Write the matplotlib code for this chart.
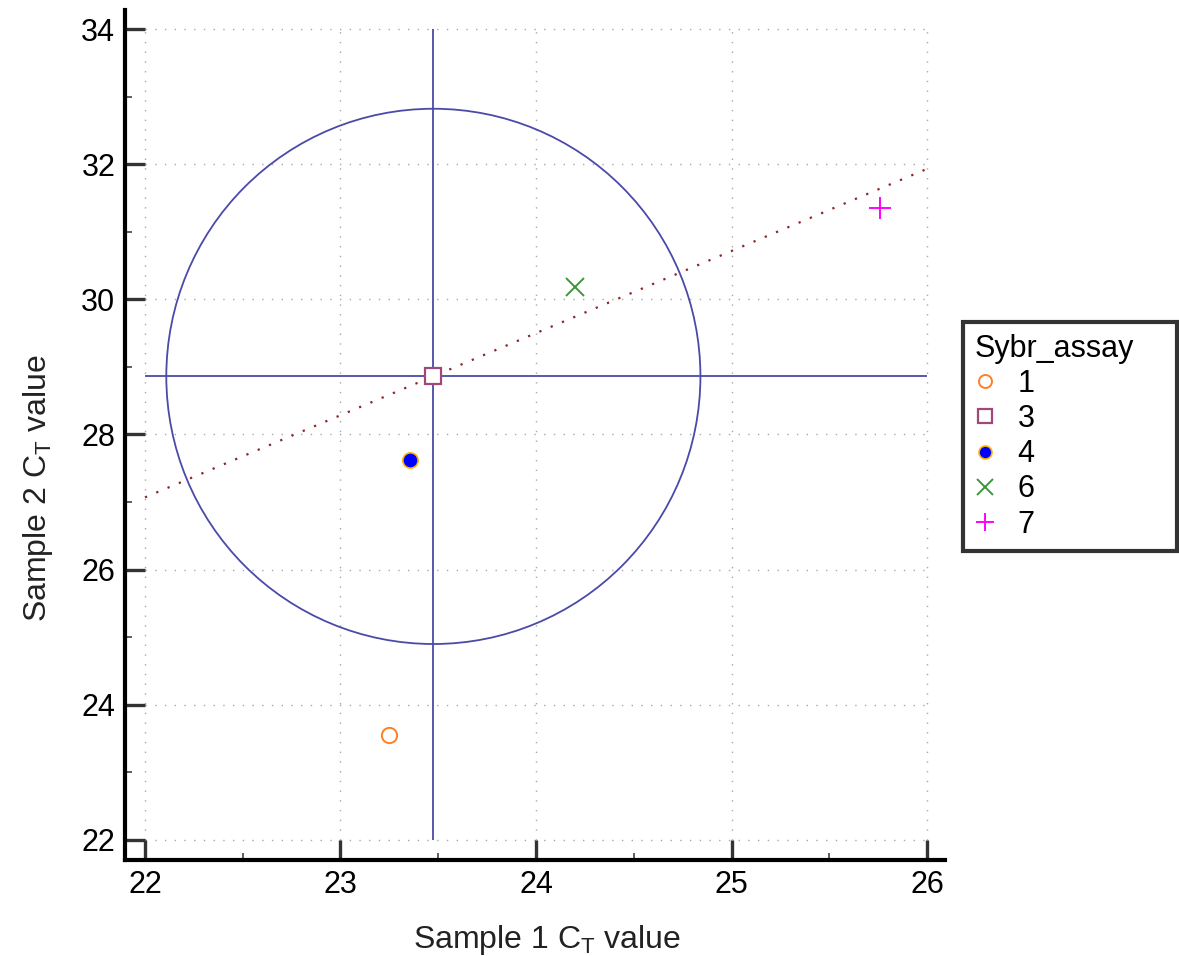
import numpy as np
import matplotlib
matplotlib.use('Agg')
import matplotlib.pyplot as plt
from matplotlib.patches import Ellipse
from matplotlib.ticker import MultipleLocator

plt.rcParams['font.family'] = ['Liberation Sans', 'DejaVu Sans']
plt.rcParams['mathtext.fontset'] = 'custom'
plt.rcParams['mathtext.rm'] = 'Liberation Sans'
plt.rcParams['mathtext.it'] = 'Liberation Sans:italic'
plt.rcParams['mathtext.default'] = 'regular'

# values
assay_labels = ['1', '3', '4', '6', '7']
sample1_ct = [23.25, 23.475, 23.355, 24.20, 25.76]
sample2_ct = [23.56, 28.86, 27.62, 30.18, 31.35]

# median cross and the ellipse around it
center_x = 23.475
center_y = 28.86
radius_x = 1.366
radius_y = 3.96

# dotted fit line: y = intercept + slope * x
fit_intercept = 0.34
fit_slope = 1.215

x_ticks = [22, 23, 24, 25, 26]
y_ticks = [22, 24, 26, 28, 30, 32, 34]

marker_styles = {
    '1': dict(marker='o', mfc='none', mec='#FF7F27', ms=11, mew=1.4),
    '3': dict(marker='s', mfc='white', mec='#A04878', ms=12, mew=1.6),
    '4': dict(marker='o', mfc='#0000FF', mec='#FFB400', ms=11, mew=1.2),
    '6': dict(marker='x', color='#3C963C', ms=13, mew=1.4),
    '7': dict(marker='+', color='#FF00FF', ms=16, mew=1.4),
}

fig = plt.figure(figsize=(11.79, 9.56), dpi=100)
ax = fig.add_axes([0.10602, 0.10042, 0.69551, 0.88912])

x0, x1 = x_ticks[0], x_ticks[-1]
y0, y1 = y_ticks[0], y_ticks[-1]

# dotted grid only across the data range
grid_kw = dict(color='#A8A8A8', lw=1.0, linestyle=(0, (1, 6)), zorder=0)
ax.hlines(y_ticks, x0, x1, **grid_kw)
ax.vlines(x_ticks, y0, y1, **grid_kw)

line_col = '#4A4AA8'
ax.hlines(center_y, x0, x1, color=line_col, lw=1.3, zorder=2)
ax.vlines(center_x, y0, y1, color=line_col, lw=1.3, zorder=2)
ax.add_patch(Ellipse((center_x, center_y), 2 * radius_x, 2 * radius_y,
                     fill=False, edgecolor=line_col, lw=1.3, zorder=2))

fx = np.array([x0, x1])
ax.plot(fx, fit_intercept + fit_slope * fx, color='#8B2525', lw=1.6,
        linestyle=(0, (1, 4.5)), zorder=2)

for lab, xv, yv in zip(assay_labels, sample1_ct, sample2_ct):
    ax.plot([xv], [yv], linestyle='none', label=lab, zorder=4, **marker_styles[lab])

ax.set_xlim(x0 - 20 / 195.5, x1 + 18 / 195.5)
ax.set_ylim(y0 - 20 / 67.58, y1 + 19 / 67.58)

for side in ['top', 'right']:
    ax.spines[side].set_visible(False)
for side in ['left', 'bottom']:
    ax.spines[side].set_linewidth(3)
    ax.spines[side].set_color('black')

ax.set_xticks(x_ticks)
ax.set_yticks(y_ticks)
ax.xaxis.set_minor_locator(MultipleLocator(0.5))
ax.yaxis.set_minor_locator(MultipleLocator(1))
ax.tick_params(which='major', direction='in', length=14.5, width=2.4,
               color='#333333', labelsize=22, pad=7)
ax.tick_params(which='minor', direction='in', length=5, width=1.1, color='#333333')

ax.set_xlabel('Sample 1 C$_T$ value', fontsize=23, color='#222222')
ax.set_ylabel('Sample 2 C$_T$ value', fontsize=23, color='#222222')
ax.xaxis.set_label_coords(0.5146, -0.074)
ax.yaxis.set_label_coords(-0.085, 0.4376)

leg = fig.legend(loc='upper left',
                 bbox_to_anchor=(963 / 1179, 1 - 549 / 956, 214 / 1179, 227 / 956),
                 mode='expand',
                 title='Sybr_assay', fontsize=22, title_fontsize=22,
                 alignment='left', frameon=True, fancybox=False,
                 handlelength=0.7, handletextpad=0.7, labelspacing=0.17,
                 borderpad=0.38, borderaxespad=0)
leg.get_frame().set_edgecolor('#333333')
leg.get_frame().set_linewidth(3)
leg.get_frame().set_alpha(1)
for h in leg.legend_handles:
    h.set_markersize(h.get_markersize() * 0.85)

fig.savefig('out.png', dpi=100)
